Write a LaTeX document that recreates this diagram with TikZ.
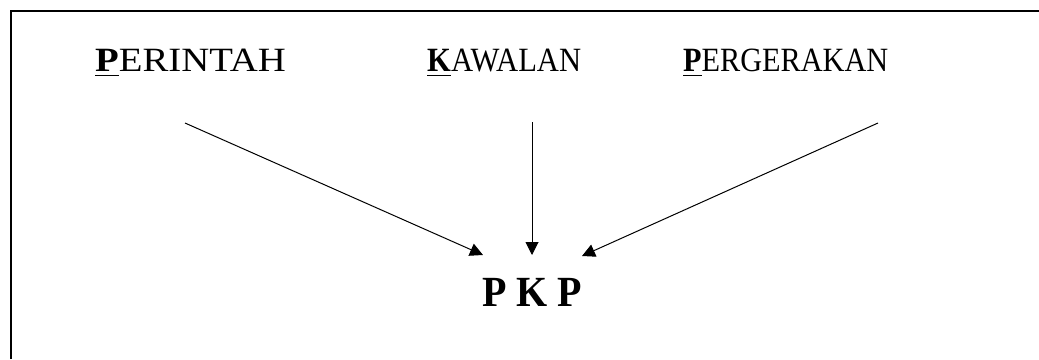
\documentclass[tikz,border=0pt]{standalone}
\usepackage{fontspec}
\setmainfont{Liberation Serif}
\usetikzlibrary{arrows.meta}
\newcommand{\firstul}[1]{\setbox0\hbox{\textbf{#1}}\rlap{\rule[-5pt]{\wd0}{0.9pt}}\box0}
\tikzset{
  label/.style={anchor=base west, inner sep=0pt, font=\fontsize{34}{34}\selectfont},
  pkp/.style={anchor=base west, inner sep=0pt, font=\fontsize{43}{43}\selectfont\bfseries},
  arr/.style={line width=1pt, -{Triangle[length=13pt,width=13pt]}},
  frame/.style={line width=2.6pt}
}
\begin{document}
\begin{tikzpicture}[x=1pt,y=-1pt]
\useasboundingbox (0,0) rectangle (1039,359);
\draw[frame] (11,359) -- (11,11) -- (1039,11);
\node[label] (per) at (95,71) {\scalebox{1.14}[1]{\firstul{P}ERINTAH}};
\node[label] (kaw) at (427,71) {\scalebox{0.9}[1]{\firstul{K}AWALAN}};
\node[label] (perg) at (683,71) {\scalebox{0.89}[1]{\firstul{P}ERGERAKAN}};
\node[pkp] (pkp) at (482,306) {\scalebox{0.93}[1]{P K P}};
\coordinate (s1) at (185,123);
\coordinate (s2) at (532,122);
\coordinate (s3) at (878,123);
\coordinate (t1) at (483,255);
\coordinate (t2) at (532,255);
\coordinate (t3) at (582,256);
\draw[arr] (s1) -- (t1);
\draw[arr] (s2) -- (t2);
\draw[arr] (s3) -- (t3);
\end{tikzpicture}
\end{document}
